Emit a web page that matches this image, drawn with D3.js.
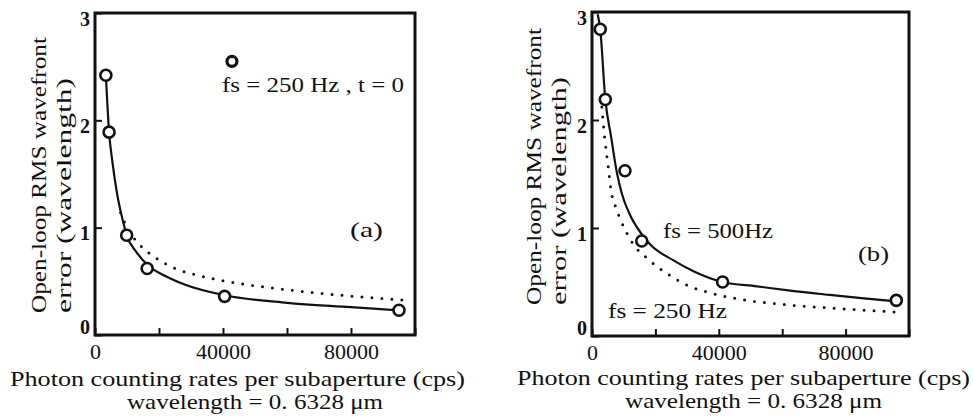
<!DOCTYPE html>
<html>
<head>
<meta charset="utf-8">
<script src="https://cdn.jsdelivr.net/npm/d3@7"></script>
<style>
  body { margin: 0; background: #fff; }
  text { font-family: 'Liberation Serif', 'DejaVu Serif', serif; fill: #111; }
</style>
</head>
<body>
<div id="main"></div>
<script>
// values: x in cps, y in wavelengths
const xTicks = [0, 20000, 40000, 60000, 80000, 100000];
const xTickLabels = ['0', '', '40000', '', '80000', ''];
const yTicks = [0, 1, 2, 3];

// panel (a)  fs = 250 Hz, t = 0
const aPointsX = [3400, 4400, 9900, 16300, 40500, 95000];
const aPointsY = [2.42, 1.89, 0.93, 0.62, 0.36, 0.23];
const aSolidX = [3400, 4400, 5500, 7000, 8500, 9900, 13000, 16500, 22000, 28000, 40500, 60000, 80000, 95000];
const aSolidY = [2.42, 1.89, 1.60, 1.30, 1.09, 0.93, 0.77, 0.65, 0.55, 0.47, 0.37, 0.30, 0.26, 0.23];
const aDotX = [8000, 10000, 14000, 19000, 25000, 33000, 41000, 55000, 70000, 85000, 99000];
const aDotY = [1.14, 1.00, 0.84, 0.72, 0.62, 0.55, 0.50, 0.44, 0.39, 0.35, 0.32];
const aLegendX = [42800];
const aLegendY = [2.55];

// panel (b)  solid fs = 500 Hz, dotted fs = 250 Hz
const bPointsX = [2600, 4200, 10400, 15700, 41200, 96000];
const bPointsY = [2.84, 2.19, 1.53, 0.88, 0.50, 0.33];
const bSolidX = [1800, 2600, 4200, 6000, 7800, 9400, 12000, 15500, 18300, 25700, 32000, 41200, 52000, 62500, 75000, 85000, 96000];
const bSolidY = [2.98, 2.84, 2.19, 1.85, 1.52, 1.32, 1.12, 0.95, 0.85, 0.70, 0.60, 0.50, 0.46, 0.42, 0.38, 0.35, 0.32];
const bDotX = [3100, 4100, 5100, 6000, 7500, 9400, 13000, 17000, 23600, 30000, 36000, 46700, 61400, 80000, 97000];
const bDotY = [2.12, 1.81, 1.57, 1.35, 1.19, 1.05, 0.85, 0.73, 0.58, 0.47, 0.41, 0.34, 0.29, 0.25, 0.22];

const zip = (xs, ys) => xs.map((x, i) => [x, ys[i]]);

const svg = d3.select('div#main')
  .append('svg')
  .attr('width', 973)
  .attr('height', 419);

function drawPanel(p) {
  const x = d3.scaleLinear().domain([0, 100000]).range([p.left, p.right]);
  const y = d3.scaleLinear().domain([0, 3]).range([p.bottom, p.top]);
  const g = svg.append('g');

  // ticks pointing inward
  const xAxis = g.append('g')
    .attr('transform', `translate(0,${p.bottom})`)
    .call(d3.axisBottom(x).tickValues(xTicks).tickSizeInner(-7).tickSizeOuter(0)
      .tickPadding(8).tickFormat((d, i) => xTickLabels[i]));
  const yAxis = g.append('g')
    .attr('transform', `translate(${p.left},0)`)
    .call(d3.axisLeft(y).tickValues(yTicks).tickSizeInner(-7).tickSizeOuter(0)
      .tickPadding(5).tickFormat(d3.format('d')));
  [xAxis, yAxis].forEach(a => {
    a.select('.domain').remove();
    a.selectAll('.tick line').attr('stroke', '#111').attr('stroke-width', 2);
  });
  xAxis.selectAll('text').style('font-size', '22px').attr('fill', '#111');
  yAxis.selectAll('text').style('font-size', '20px').style('font-weight', 'bold').attr('fill', '#111')
    .attr('dy', d => (d === 0 ? '-0.1em' : '0.6em'));

  // frame
  g.append('rect')
    .attr('x', p.left).attr('y', p.top)
    .attr('width', p.right - p.left).attr('height', p.bottom - p.top)
    .attr('fill', 'none').attr('stroke', '#111').attr('stroke-width', 3);

  const line = d3.line().x(d => x(d[0])).y(d => y(d[1])).curve(d3.curveMonotoneX);

  g.append('path').datum(p.dotted)
    .attr('d', line).attr('fill', 'none').attr('stroke', '#111')
    .attr('stroke-width', 3).attr('stroke-linecap', 'round').attr('stroke-dasharray', '0,10');

  g.append('path').datum(p.solid)
    .attr('d', line).attr('fill', 'none').attr('stroke', '#111').attr('stroke-width', 2.2);

  g.selectAll('circle.pt').data(p.points).join('circle')
    .attr('class', 'pt')
    .attr('cx', d => x(d[0])).attr('cy', d => y(d[1])).attr('r', 5.5)
    .attr('fill', '#fff').attr('stroke', '#111').attr('stroke-width', 2.6);

  // rotated y title, two lines
  p.yTitle.forEach((t, i) => {
    g.append('text')
      .attr('transform', `translate(${p.yTitleX[i]},${p.yTitleStart}) rotate(-90)`)
      .attr('textLength', t.len).attr('lengthAdjust', 'spacingAndGlyphs')
      .style('font-size', '22px')
      .text(t.text);
  });

  // x title, two lines
  p.xTitle.forEach(t => {
    g.append('text')
      .attr('x', t.x).attr('y', t.y)
      .attr('textLength', t.len).attr('lengthAdjust', 'spacingAndGlyphs')
      .style('font-size', '21px')
      .text(t.text);
  });

  // notes inside the plot
  p.notes.forEach(t => {
    g.append('text')
      .attr('x', t.x).attr('y', t.y)
      .attr('textLength', t.len).attr('lengthAdjust', 'spacingAndGlyphs')
      .style('font-size', t.size + 'px')
      .text(t.text);
  });

  if (p.legend) {
    g.selectAll('circle.lg').data(p.legend).join('circle')
      .attr('class', 'lg')
      .attr('cx', d => x(d[0])).attr('cy', d => y(d[1])).attr('r', 5)
      .attr('fill', '#fff').attr('stroke', '#111').attr('stroke-width', 3.2);
  }
}

drawPanel({
  left: 95, right: 415, top: 13, bottom: 335,
  points: zip(aPointsX, aPointsY),
  solid: zip(aSolidX, aSolidY),
  dotted: zip(aDotX, aDotY),
  legend: zip(aLegendX, aLegendY),
  yTitle: [
    { text: 'Open-loop RMS wavefront', len: 276 },
    { text: 'error (wavelength)', len: 235 }
  ],
  yTitleX: [46, 71], yTitleStart: 313,
  xTitle: [
    { text: 'Photon counting rates per subaperture (cps)', x: 10, y: 386, len: 455 },
    { text: 'wavelength = 0. 6328 μm', x: 127, y: 409, len: 256 }
  ],
  notes: [
    { text: 'fs = 250 Hz , t = 0', x: 222, y: 92, len: 182, size: 22 },
    { text: '(a)', x: 350, y: 237, len: 33, size: 21 }
  ]
});

drawPanel({
  left: 592, right: 909, top: 12, bottom: 336,
  points: zip(bPointsX, bPointsY),
  solid: zip(bSolidX, bSolidY),
  dotted: zip(bDotX, bDotY),
  legend: null,
  yTitle: [
    { text: 'Open-loop RMS wavefront', len: 277 },
    { text: 'error (wavelength)', len: 228 }
  ],
  yTitleX: [541, 566], yTitleStart: 305,
  xTitle: [
    { text: 'Photon counting rates per subaperture (cps)', x: 517, y: 385, len: 453 },
    { text: 'wavelength = 0. 6328 μm', x: 625, y: 408, len: 257 }
  ],
  notes: [
    { text: 'fs = 500Hz', x: 663, y: 238, len: 110, size: 22 },
    { text: 'fs = 250 Hz', x: 608, y: 318, len: 119, size: 22 },
    { text: '(b)', x: 858, y: 261, len: 31, size: 21 }
  ]
});
</script>
</body>
</html>
